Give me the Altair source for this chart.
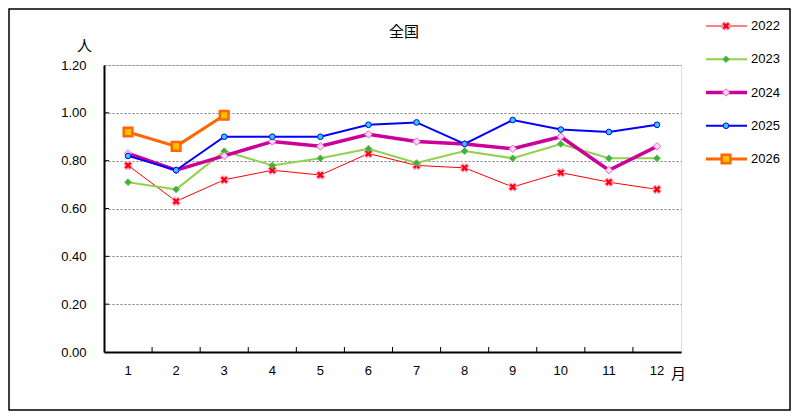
"""Monthly ratio chart (全国) by year, recreated with Altair."""

import altair as alt
import pandas as pd


MONTHS = list(range(1, 13))
YEARS = ["2022", "2023", "2024", "2025", "2026"]

V2022 = [0.78, 0.63, 0.72, 0.76, 0.74, 0.83, 0.78, 0.77, 0.69, 0.75, 0.71, 0.68]
V2023 = [0.71, 0.68, 0.84, 0.78, 0.81, 0.85, 0.79, 0.84, 0.81, 0.87, 0.81, 0.81]
V2024 = [0.83, 0.76, 0.82, 0.88, 0.86, 0.91, 0.88, 0.87, 0.85, 0.90, 0.76, 0.86]
V2025 = [0.82, 0.76, 0.90, 0.90, 0.90, 0.95, 0.96, 0.87, 0.97, 0.93, 0.92, 0.95]
V2026 = [0.92, 0.86, 0.99]

Y_TICKS = [0.0, 0.2, 0.4, 0.6, 0.8, 1.0, 1.2]
TITLE = "全国"

SERIES = {"2022": V2022, "2023": V2023, "2024": V2024, "2025": V2025, "2026": V2026}

# line colour, line width, marker shape, marker fill, marker stroke, size
STYLES = {
    "2022": dict(color="#FF0000", width=1, shape="cross", fill="#FF0000", stroke="#FFA0D0", size=70, angle=45, sw=1),
    "2023": dict(color="#92D050", width=2, shape="diamond", fill="#3CB043", stroke="#66BB44", size=45, angle=0, sw=1),
    "2024": dict(color="#CC0099", width=3.5, shape="diamond", fill="#FFDDFF", stroke="#FF55CC", size=55, angle=0, sw=1),
    "2025": dict(color="#0000FF", width=2, shape="circle", fill="#33CCFF", stroke="#0000FF", size=32, angle=0, sw=1),
    "2026": dict(color="#FF6600", width=3, shape="square", fill="#FFC000", stroke="#FF6600", size=75, angle=0, sw=2.5),
}

W, H = 577, 287
PAD = {"left": 96, "top": 57, "right": 110, "bottom": 59}
NUM_FONT = "Liberation Sans"
JP_FONT = "Noto Sans CJK JP"


def build_frame():
    rows = []
    for year in YEARS:
        for month, value in zip(MONTHS, SERIES[year]):
            rows.append({"year": year, "month": month, "value": value})
    return pd.DataFrame(rows)


x_scale = alt.Scale(type="band", domain=MONTHS, paddingInner=0, paddingOuter=0)
y_scale = alt.Scale(domain=[0, 1.2], nice=False, zero=True)

X_AXIS = alt.Axis(
    title="月", titleAngle=0, titleX=574, titleY=21, titleAlign="center",
    titleBaseline="middle", titleFont=JP_FONT, titleFontSize=15,
    titleFontWeight="normal", titleColor="#000",
    labelAngle=0, labelFont=NUM_FONT, labelFontSize=13, labelColor="#000",
    labelPadding=12, ticks=False, tickSize=0,
    domainColor="#000", domainWidth=2, grid=False,
)
Y_AXIS = alt.Axis(
    values=Y_TICKS, format=".2f",
    title="人", titleAngle=0, titleX=-20, titleY=-20, titleAlign="center",
    titleBaseline="middle", titleFont=JP_FONT, titleFontSize=15,
    titleFontWeight="normal", titleColor="#000",
    labelFont=NUM_FONT, labelFontSize=13, labelColor="#000",
    labelPadding=18, ticks=False, tickSize=0,
    domainColor="#000", domainWidth=2,
    grid=True, gridColor="#808080", gridDash=[2, 2], gridWidth=1,
)


def series_layers(df, year):
    s = STYLES[year]
    d = df[df["year"] == year]
    base = alt.Chart(d).encode(
        x=alt.X("month:O", scale=x_scale, axis=X_AXIS),
        y=alt.Y("value:Q", scale=y_scale, axis=Y_AXIS),
    )
    line = base.mark_line(color=s["color"], strokeWidth=s["width"])
    point = base.mark_point(
        shape=s["shape"], filled=True, fill=s["fill"], stroke=s["stroke"],
        strokeWidth=s["sw"], size=s["size"], angle=s["angle"], opacity=1,
    )
    return line, point


def create_chart():
    df = build_frame()

    # short inward ticks on both axes
    tick_df = pd.DataFrame({"value": Y_TICKS[1:-1]})
    y_ticks = alt.Chart(tick_df).mark_rule(color="#000", strokeWidth=1).encode(
        y=alt.Y("value:Q", scale=y_scale, axis=Y_AXIS),
        x=alt.value(0), x2=alt.value(5),
    )
    xt_df = pd.DataFrame({"month": MONTHS[1:]})
    x_ticks = alt.Chart(xt_df).mark_rule(color="#000", strokeWidth=1).encode(
        x=alt.X("month:O", scale=x_scale, axis=X_AXIS, bandPosition=0),
        y=alt.value(H), y2=alt.value(H - 5),
    )

    layers = [y_ticks, x_ticks]
    for year in YEARS:
        line, point = series_layers(df, year)
        layers += [line, point]
    main = alt.layer(*layers)

    # custom legend on the right, title and outer frame
    leg_layers = []
    leg_scale = alt.Scale(type="point", domain=YEARS, range=[-39, 94], padding=0)
    for year in YEARS:
        s = STYLES[year]
        ld = pd.DataFrame({"year": [year]})
        lb = alt.Chart(ld).encode(y=alt.Y("year:N", scale=leg_scale, axis=None))
        leg_layers.append(
            lb.mark_rule(color=s["color"], strokeWidth=s["width"]).encode(
                x=alt.value(602), x2=alt.value(643)
            )
        )
        leg_layers.append(
            lb.mark_point(
                shape=s["shape"], filled=True, fill=s["fill"], stroke=s["stroke"],
                strokeWidth=s["sw"], size=s["size"], angle=s["angle"], opacity=1,
            ).encode(x=alt.value(622))
        )
    leg_df = pd.DataFrame({"year": YEARS})
    leg_layers.append(
        alt.Chart(leg_df).mark_text(
            align="left", baseline="middle", font=NUM_FONT, fontSize=13, color="#000"
        ).encode(
            y=alt.Y("year:N", scale=leg_scale, axis=None),
            x=alt.value(647),
            text="year:N",
        )
    )
    title_df = pd.DataFrame({"t": [TITLE]})
    title = alt.Chart(title_df).mark_text(
        align="center", baseline="middle", font=JP_FONT, fontSize=15, color="#000"
    ).encode(x=alt.value(300), y=alt.value(-33), text="t:N")
    frame = alt.Chart(title_df).mark_rect(
        fill=None, stroke="#000", strokeWidth=1.5, clip=False
    ).encode(
        x=alt.value(-PAD["left"] + 1), x2=alt.value(W + PAD["right"] - 1),
        y=alt.value(-PAD["top"] + 1), y2=alt.value(H + PAD["bottom"] - 1),
    )
    legend = alt.layer(*leg_layers, title, frame)

    chart = (
        alt.layer(main, legend)
        .resolve_scale(y="independent")
        .properties(
            width=W, height=H,
            autosize=alt.AutoSizeParams(type="none"),
            padding=PAD,
        )
        .configure_view(stroke="#808080", strokeWidth=1.5)
        .configure(background="white")
    )
    return chart


def main():
    chart = create_chart()
    chart.save("out.html", embed_options={"renderer": "svg", "actions": False})


if __name__ == "__main__":
    main()
